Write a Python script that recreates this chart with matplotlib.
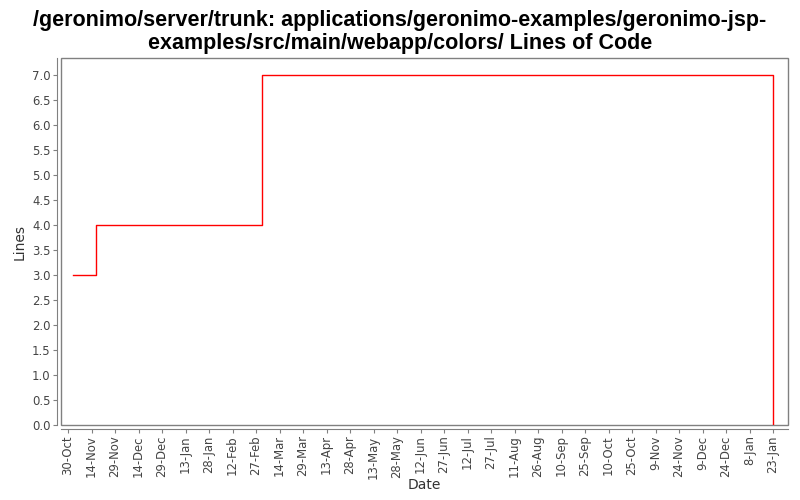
import matplotlib
matplotlib.use("Agg")
import matplotlib.pyplot as plt
import matplotlib.dates as mdates
from matplotlib.patches import Rectangle
import datetime as dt

dates = [dt.date(2006, 11, 2), dt.date(2006, 11, 17), dt.date(2007, 3, 3), dt.date(2008, 1, 23)]
lines = [3, 4, 7, 0]

tick_start = dt.date(2006, 10, 30)
tick_dates = [tick_start + dt.timedelta(days=15 * i) for i in range(31)]
tick_labels = [f"{d.day}-{d.strftime('%b')}" for d in tick_dates]
y_ticks = [i * 0.5 for i in range(15)]

title = "/geronimo/server/trunk: applications/geronimo-examples/geronimo-jsp-\nexamples/src/main/webapp/colors/ Lines of Code"

fig = plt.figure(figsize=(8, 5), dpi=100)
ax = fig.add_axes([61 / 800, 1 - 425 / 500, (788 - 61) / 800, (425 - 58) / 500])

ax.step(mdates.date2num(dates), lines, where="post", color="#ff0000", lw=1.0)

x0 = mdates.date2num(tick_start)
ax.set_xlim(x0 - 4.5, x0 + 459.5)
ax.set_ylim(0, 7.34)

ax.set_xticks(mdates.date2num(tick_dates))
ax.set_xticklabels(tick_labels)
ax.set_yticks(y_ticks)
ax.set_yticklabels([f"{v:.1f}" for v in y_ticks])

gray = "#808080"
for s in ["top", "right"]:
    ax.spines[s].set_visible(False)
ax.spines["left"].set_position(("outward", 3))
ax.spines["bottom"].set_position(("outward", 3))
ax.spines["left"].set_color(gray)
ax.spines["bottom"].set_color(gray)
ax.add_patch(Rectangle((0, 0), 1, 1, transform=ax.transAxes, fill=False,
                       edgecolor=gray, lw=1.0, clip_on=False, zorder=0))
ax.tick_params(axis="both", colors=gray, labelcolor="#444444", labelsize=8.4,
               length=3, width=0.8, pad=1.5)
ax.tick_params(axis="x", labelrotation=90)

ax.set_xlabel("Date", fontsize=10, color="#333333", va="center")
ax.xaxis.set_label_coords(0.5, -60 / 367)
ax.set_ylabel("Lines", fontsize=10, color="#333333", va="center")
ax.yaxis.set_label_coords(-41 / 727, 0.5)

fig.suptitle(title, fontsize=15.5, fontweight="bold",
             family=["Liberation Sans", "DejaVu Sans"], y=0.98, linespacing=1.12)

fig.savefig("out.png", dpi=100)
